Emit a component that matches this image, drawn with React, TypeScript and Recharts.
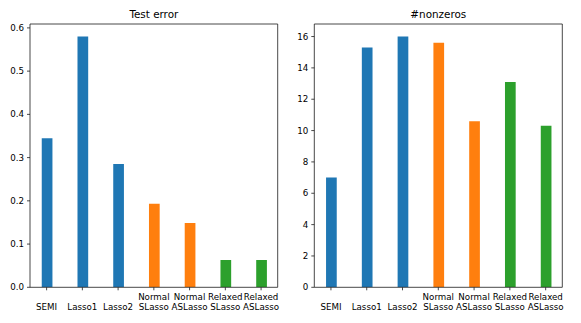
import React from 'react';
import { BarChart, Bar, XAxis, YAxis, Cell, ReferenceLine } from 'recharts';

const categories = [
  ['', 'SEMI'],
  ['', 'Lasso1'],
  ['', 'Lasso2'],
  ['Normal', 'SLasso'],
  ['Normal', 'ASLasso'],
  ['Relaxed', 'SLasso'],
  ['Relaxed', 'ASLasso'],
];
const testError = [0.345, 0.58, 0.285, 0.193, 0.149, 0.063, 0.063];
const nonzeros = [7.0, 15.3, 16.0, 15.6, 10.6, 13.1, 10.3];
const groupColors = ['#1f77b4', '#1f77b4', '#1f77b4', '#ff7f0e', '#ff7f0e', '#2ca02c', '#2ca02c'];
const errorTicks = [0, 0.1, 0.2, 0.3, 0.4, 0.5, 0.6];
const nonzeroTicks = [0, 2, 4, 6, 8, 10, 12, 14, 16];
const xTicks = [0, 1, 2, 3, 4, 5, 6];

const FONT = 'DejaVu Sans, sans-serif';
const X_MIN = -0.465;
const X_MAX = 6.465;
const AX = '#1a1a1a';

function XTick(props: any) {
  const { x, y, payload } = props;
  const lines = categories[payload.value] || ['', ''];
  return (
    <g>
      <text x={x} y={y + 7} textAnchor="middle" fontSize={8.7} fontFamily={FONT} fill="#000">
        {lines[0]}
      </text>
      <text x={x} y={y + 16.8} textAnchor="middle" fontSize={8.7} fontFamily={FONT} fill="#000">
        {lines[1]}
      </text>
    </g>
  );
}

interface PanelProps {
  values: number[];
  yMax: number;
  yTicks: number[];
  fmt: (v: number) => string;
  title: string;
  left: number;
  width: number;
  axisWidth: number;
  marginRight: number;
}

function Panel({ values, yMax, yTicks, fmt, title, left, width, axisWidth, marginRight }: PanelProps) {
  const data = values.map((v, i) => ({ x: i, value: v }));
  const plotCenter = axisWidth + (width - axisWidth - marginRight) / 2;
  return (
    <div style={{ position: 'absolute', left, top: 0, width, height: 323 }}>
      <div
        style={{
          position: 'absolute',
          top: 8,
          left: plotCenter - 100,
          width: 200,
          textAlign: 'center',
          fontFamily: FONT,
          fontSize: 10.4,
          lineHeight: '12px',
          color: '#000',
        }}
      >
        {title}
      </div>
      <BarChart width={width} height={323} data={data} margin={{ top: 24, right: marginRight, left: 0, bottom: 0 }}>
        <XAxis
          dataKey="x"
          type="number"
          domain={[X_MIN, X_MAX]}
          ticks={xTicks}
          interval={0}
          height={35.7}
          tickSize={3}
          tickMargin={3}
          tick={<XTick />}
          axisLine={{ stroke: AX, strokeWidth: 0.8 }}
          tickLine={{ stroke: AX, strokeWidth: 0.8 }}
          allowDataOverflow
        />
        <YAxis
          type="number"
          domain={[0, yMax]}
          ticks={yTicks}
          interval={0}
          width={axisWidth}
          tickSize={3}
          tickMargin={3}
          tickFormatter={fmt}
          tick={{ fontSize: 8.7, fontFamily: FONT, fill: '#000' }}
          axisLine={{ stroke: AX, strokeWidth: 0.8 }}
          tickLine={{ stroke: AX, strokeWidth: 0.8 }}
          allowDataOverflow
        />
        <ReferenceLine y={yMax} stroke={AX} strokeWidth={0.8} />
        <ReferenceLine x={X_MAX} stroke={AX} strokeWidth={0.8} />
        <Bar dataKey="value" barSize={10.7} isAnimationActive={false}>
          {data.map((d, i) => (
            <Cell key={`c-${i}`} fill={groupColors[i]} />
          ))}
        </Bar>
      </BarChart>
    </div>
  );
}

export default function App() {
  return (
    <div style={{ position: 'absolute', left: 0, top: 0, width: 581, height: 323, background: '#fff' }}>
      <Panel
        values={testError}
        yMax={0.609}
        yTicks={errorTicks}
        fmt={(v) => v.toFixed(1)}
        title="Test error"
        left={0}
        width={290}
        axisWidth={30}
        marginRight={12.3}
      />
      <Panel
        values={nonzeros}
        yMax={16.8}
        yTicks={nonzeroTicks}
        fmt={(v) => String(v)}
        title="#nonzeros"
        left={290}
        width={291}
        axisWidth={24.3}
        marginRight={18.7}
      />
    </div>
  );
}
